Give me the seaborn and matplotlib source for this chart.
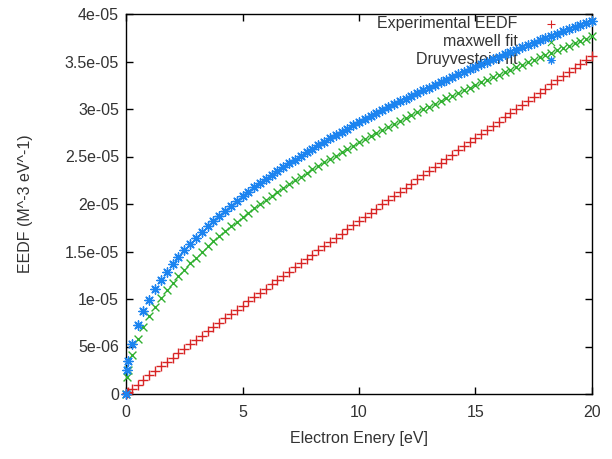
import matplotlib
matplotlib.use("Agg")
import matplotlib.pyplot as plt
import numpy as np
import seaborn as sns

# electron energy grid [eV]
energy = np.r_[0.0, 0.05, 0.1, np.arange(0.25, 20.01, 0.25)]

# EEDF values, in units of 1e-6 m^-3 eV^-1
experimental = [
    0.0, 0.1, 0.2,
    0.51, 1.00, 1.48, 1.96, 2.43, 2.90, 3.37, 3.83, 4.29, 4.76, 5.22, 5.67,
    6.13, 6.59, 7.04, 7.50, 7.95, 8.40, 8.85, 9.30, 9.75, 10.20, 10.65, 11.10,
    11.55, 11.99, 12.44, 12.88, 13.33, 13.78, 14.22, 14.66, 15.11, 15.55, 15.99, 16.43,
    16.88, 17.32, 17.76, 18.20, 18.64, 19.08, 19.52, 19.96, 20.40, 20.83, 21.27, 21.71,
    22.15, 22.59, 23.02, 23.46, 23.90, 24.33, 24.77, 25.20, 25.64, 26.08, 26.51, 26.95,
    27.38, 27.81, 28.25, 28.68, 29.12, 29.55, 29.98, 30.42, 30.85, 31.28, 31.72, 32.15,
    32.58, 33.01, 33.44, 33.88, 34.31, 34.74, 35.17, 35.60,
]
maxwell = [
    0.0, 1.79, 2.55,
    4.06, 5.78, 7.10, 8.22, 9.21, 10.10, 10.92, 11.69, 12.41, 13.09, 13.74, 14.36,
    14.96, 15.53, 16.09, 16.62, 17.14, 17.65, 18.14, 18.62, 19.09, 19.54, 19.99, 20.43,
    20.85, 21.27, 21.68, 22.09, 22.49, 22.88, 23.26, 23.64, 24.01, 24.38, 24.74, 25.10,
    25.45, 25.80, 26.14, 26.48, 26.81, 27.14, 27.47, 27.79, 28.11, 28.42, 28.74, 29.05,
    29.35, 29.66, 29.95, 30.25, 30.55, 30.84, 31.13, 31.41, 31.70, 31.97, 32.25, 32.53,
    32.81, 33.08, 33.35, 33.62, 33.88, 34.15, 34.41, 34.67, 34.93, 35.18, 35.44, 35.69,
    35.94, 36.19, 36.44, 36.68, 36.93, 37.17, 37.41, 37.65,
]
druyvestein = [
    0.0, 2.51, 3.45,
    5.26, 7.23, 8.71, 9.94, 11.01, 11.97, 12.85, 13.66, 14.42, 15.14, 15.81, 16.46,
    17.07, 17.66, 18.23, 18.78, 19.31, 19.83, 20.32, 20.81, 21.28, 21.74, 22.19, 22.62,
    23.05, 23.47, 23.88, 24.28, 24.68, 25.06, 25.44, 25.82, 26.18, 26.55, 26.90, 27.25,
    27.60, 27.94, 28.27, 28.60, 28.93, 29.25, 29.57, 29.88, 30.19, 30.50, 30.80, 31.10,
    31.39, 31.69, 31.98, 32.26, 32.55, 32.82, 33.10, 33.38, 33.65, 33.92, 34.19, 34.45,
    34.71, 34.97, 35.23, 35.49, 35.74, 35.99, 36.24, 36.49, 36.73, 36.98, 37.22, 37.46,
    37.70, 37.93, 38.17, 38.40, 38.63, 38.86, 39.09, 39.31,
]

series_labels = ["Experimental EEDF", "maxwell fit", "Druyvestein fit"]
x_ticks = [0, 5, 10, 15, 20]
y_ticks = [0, 5e-6, 1e-5, 1.5e-5, 2e-5, 2.5e-5, 3e-5, 3.5e-5, 4e-5]
y_tick_labels = ["0", "5e-06", "1e-05", "1.5e-05", "2e-05", "2.5e-05",
                 "3e-05", "3.5e-05", "4e-05"]

sns.set_style("ticks")
plt.rcParams["font.family"] = ["Liberation Sans", "DejaVu Sans"]
plt.rcParams["font.size"] = 11.5
text_color = "#333333"

fig = plt.figure(figsize=(6.12, 4.59), dpi=100)
ax = fig.add_axes([126 / 612, 65 / 459, 466 / 612, 380 / 459])

# gnuplot-like point types: +, x and asterisk
styles = [
    ("+", "#d82424", 42),
    ("x", "#30b030", 32),
    ((8, 2, 0), "#1c84f0", 44),
]
for vals, label, (marker, color, size) in zip(
    [experimental, maxwell, druyvestein], series_labels, styles
):
    sns.scatterplot(
        x=energy,
        y=np.array(vals) * 1e-6,
        marker=marker,
        color=color,
        s=size,
        linewidth=1.0,
        label=label,
        clip_on=False,
        zorder=3,
        ax=ax,
    )

ax.set_xlim(0, 20)
ax.set_ylim(0, 4e-5)
ax.set_xticks(x_ticks)
ax.set_xticklabels([str(t) for t in x_ticks])
ax.set_yticks(y_ticks)
ax.set_yticklabels(y_tick_labels)
ax.tick_params(direction="in", length=5, width=1, color="black",
               top=True, right=True, labelcolor=text_color)
ax.tick_params(axis="x", pad=8)
ax.tick_params(axis="y", pad=5)
for spine in ax.spines.values():
    spine.set_visible(True)
    spine.set_color("black")
    spine.set_linewidth(1)

ax.set_xlabel("Electron Enery [eV]", color=text_color)
ax.set_ylabel("EEDF (M^-3 eV^-1)", color=text_color)
ax.xaxis.set_label_coords(0.5, -0.098)
ax.yaxis.set_label_coords(-0.2, 0.5)

leg = ax.legend(
    loc="upper right",
    bbox_to_anchor=(0.947, 1.016),
    frameon=False,
    markerfirst=False,
    borderpad=0,
    handlelength=1.0,
    handletextpad=1.6,
    labelspacing=0.2,
    scatterpoints=1,
)
for t in leg.get_texts():
    t.set_color(text_color)
for h in leg.legend_handles:
    h.set_sizes([26])
    h.set_linewidth(0.8)
leg.set_zorder(1)

fig.savefig("out.png", dpi=100, facecolor="white")
